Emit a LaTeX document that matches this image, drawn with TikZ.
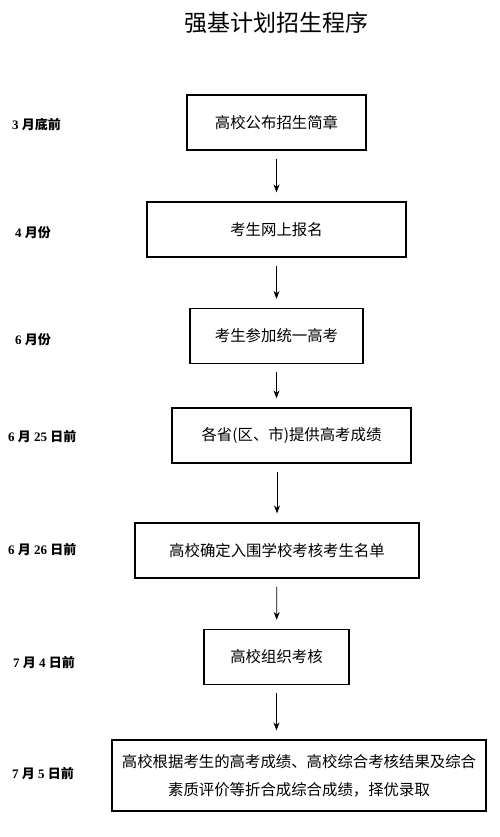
\documentclass[tikz,border=0pt]{standalone}
\usepackage{fontspec}
\setmainfont{Liberation Serif}
\newfontfamily\cjk{Noto Sans CJK SC}
\usetikzlibrary{arrows.meta}

\begin{document}
\begin{tikzpicture}[x=1pt,y=-1pt,
    stagebox/.style={draw, line width=1.2pt, inner sep=0pt, minimum height=55pt,
        font=\cjk\fontsize{15.4}{28}\selectfont, align=center},
    datelabel/.style={anchor=west, inner sep=0pt, font=\fontsize{13}{15}\selectfont},
    flowarrow/.style={-{Stealth[length=8pt,width=6pt]}, line width=0.8pt,
        shorten <=8pt, shorten >=9pt}]

    \useasboundingbox (0,0) rectangle (500,837);

    % Title
    \node[font=\cjk\fontsize{23}{26}\selectfont] (title) at (276,23) {强基计划招生程序};

    % Stage boxes
    \node[stagebox, minimum width=179pt] (s1) at (276.5,122.5) {高校公布招生简章};
    \node[stagebox, minimum width=259pt] (s2) at (276.5,229.5) {考生网上报名};
    \node[stagebox, minimum width=173pt] (s3) at (276.5,336) {考生参加统一高考};
    \node[stagebox, minimum width=239pt] (s4) at (291.5,435.5) {各省(区、市)提供高考成绩};
    \node[stagebox, minimum width=284pt] (s5) at (277,550.5) {高校确定入围学校考核考生名单};
    \node[stagebox, minimum width=145pt] (s6) at (276.5,657) {高校组织考核};
    \node[stagebox, minimum width=374pt, minimum height=71pt] (s7) at (299,775.5)
        {高校根据考生的高考成绩、高校综合考核结果及综合\\素质评价等折合成综合成绩，择优录取};

    % Arrows
    \draw[flowarrow] (s1) -- (s2);
    \draw[flowarrow] (s2) -- (s3);
    \draw[flowarrow] (s3) -- (s3 |- s4.north);
    \draw[flowarrow] (s4.south -| s5) -- (s5);
    \draw[flowarrow] (s5) -- (s6);
    \draw[flowarrow] (s6) -- (s6 |- s7.north);

    % Dates
    \node[datelabel] (d1) at (12,125) {\textbf{3} {\bfseries\cjk 月底前}};
    \node[datelabel] (d2) at (15,233) {\textbf{4} {\bfseries\cjk 月份}};
    \node[datelabel] (d3) at (15,340) {\textbf{6} {\bfseries\cjk 月份}};
    \node[datelabel] (d4) at (8,437) {\textbf{6} {\bfseries\cjk 月} \textbf{25} {\bfseries\cjk 日前}};
    \node[datelabel] (d5) at (8,550) {\textbf{6} {\bfseries\cjk 月} \textbf{26} {\bfseries\cjk 日前}};
    \node[datelabel] (d6) at (13,663) {\textbf{7} {\bfseries\cjk 月} \textbf{4} {\bfseries\cjk 日前}};
    \node[datelabel] (d7) at (12,774) {\textbf{7} {\bfseries\cjk 月} \textbf{5} {\bfseries\cjk 日前}};

\end{tikzpicture}
\end{document}
